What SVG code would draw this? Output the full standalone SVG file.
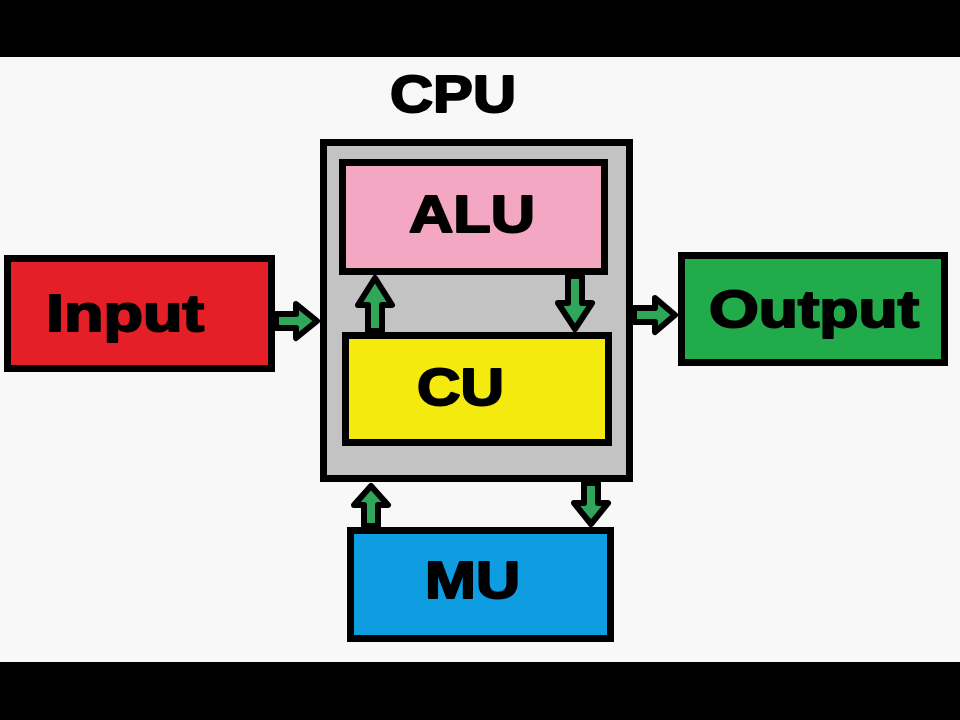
<svg xmlns="http://www.w3.org/2000/svg" width="960" height="720" viewBox="0 0 960 720">
  <style>
    .box { stroke: #000; stroke-width: 7; }
    .lbl { font-family: "Liberation Sans", Arial, sans-serif; font-weight: bold; font-size: 52px; fill: #000; stroke: #000; stroke-width: 2; stroke-linejoin: round; }
    .arrow { fill: #2fa65a; stroke: #000; stroke-width: 6; stroke-linejoin: round; }
  </style>
  <rect x="0" y="0" width="960" height="720" fill="#f8f8f8"/>
  <rect x="0" y="0" width="960" height="57" fill="#000"/>
  <rect x="0" y="662" width="960" height="58" fill="#000"/>

  <g id="cpu">
    <rect class="box" x="323.5" y="142.5" width="306" height="336" fill="#c3c3c3"/>
    <text x="390" y="112" class="lbl" textLength="126" lengthAdjust="spacingAndGlyphs">CPU</text>
  </g>
  <g id="alu">
    <rect class="box" x="342.5" y="162.5" width="262" height="109" fill="#f3a7c3"/>
    <text x="409" y="232" class="lbl" textLength="126" lengthAdjust="spacingAndGlyphs">ALU</text>
  </g>
  <g id="cu">
    <rect class="box" x="345.5" y="335.5" width="263" height="107" fill="#f5ea0d"/>
    <text x="417" y="405" class="lbl" textLength="87" lengthAdjust="spacingAndGlyphs">CU</text>
  </g>
  <g id="input">
    <rect class="box" x="7.5" y="258.5" width="264" height="110" fill="#e41f27"/>
    <text x="46" y="331" class="lbl" textLength="158" lengthAdjust="spacingAndGlyphs">Input</text>
  </g>
  <g id="output">
    <rect class="box" x="681.5" y="255.5" width="263" height="107" fill="#22ab4a"/>
    <text x="709" y="327" class="lbl" textLength="210" lengthAdjust="spacingAndGlyphs">Output</text>
  </g>
  <g id="mu">
    <rect class="box" x="350.5" y="530.5" width="260" height="108" fill="#0d9de0"/>
    <text x="425" y="598" class="lbl" textLength="95" lengthAdjust="spacingAndGlyphs">MU</text>
  </g>

  <g id="connectors">
    <!-- Input -> CPU -->
    <polygon class="arrow" points="276,314 296,314 296,304 317,321 296,338 296,328 276,328"/>
    <!-- CPU -> Output -->
    <polygon class="arrow" points="634,308 655,308 655,298 675,315 655,332 655,322 634,322"/>
    <!-- CU -> ALU (up) -->
    <polygon class="arrow" points="368,331 368,305 358,305 375,278 392,305 382,305 382,331"/>
    <!-- ALU -> CU (down) -->
    <polygon class="arrow" points="568,276 568,303 558,303 575,329 592,303 582,303 582,276"/>
    <!-- MU -> CPU (up) -->
    <polygon class="arrow" points="364,526 364,505 354,505 371,486 388,505 378,505 378,526"/>
    <!-- CPU -> MU (down) -->
    <polygon class="arrow" points="584,483 584,503 574,503 591,524 608,503 598,503 598,483"/>
  </g>
</svg>
